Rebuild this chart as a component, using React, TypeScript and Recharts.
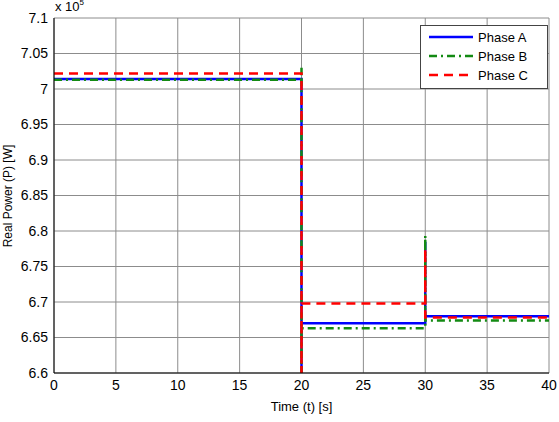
import React from "react";
import { LineChart, Line, XAxis, YAxis, CartesianGrid } from "recharts";

const xTicks = [0, 5, 10, 15, 20, 25, 30, 35, 40];
const yTicks = [6.6, 6.65, 6.7, 6.75, 6.8, 6.85, 6.9, 6.95, 7, 7.05, 7.1];

const timeA = [0, 20, 20, 20, 30, 30, 30, 40];
const powerA = [7.014, 7.014, 6.59, 6.67, 6.67, 6.785, 6.68, 6.68];

const timeB = [0, 20, 20, 20, 20, 30, 30, 30, 40];
const powerB = [7.013, 7.013, 7.03, 6.59, 6.663, 6.663, 6.793, 6.674, 6.674];

const timeC = [0, 20, 20, 20, 30, 30, 30, 40];
const powerC = [7.022, 7.022, 6.58, 6.698, 6.698, 6.775, 6.678, 6.678];

const build = (t: number[], p: number[]) => t.map((x, i) => ({ t: x, p: p[i] }));
const dataA = build(timeA, powerA);
const dataB = build(timeB, powerB);
const dataC = build(timeC, powerC);

const font = "'Liberation Sans', Arial, sans-serif";

const fmt = (v: number) => String(Math.round(v * 100) / 100);

export default function App() {
  return (
    <div style={{ position: "absolute", left: 0, top: 0, width: 559, height: 422, background: "#fff", fontFamily: font }}>
      <LineChart width={559} height={422} margin={{ top: 18, right: 10, bottom: 0, left: 0 }}>
        <CartesianGrid stroke="#8c8c8c" strokeWidth={1} />
        <XAxis
          dataKey="t"
          type="number"
          domain={[0, 40]}
          ticks={xTicks}
          allowDataOverflow
          height={49}
          tickLine={false}
          axisLine={{ stroke: "#000" }}
          tick={{ fill: "#000", fontSize: 14, fontFamily: font }}
          tickMargin={1}
          label={{ value: "Time (t) [s]", position: "insideBottom", offset: 11, fill: "#000", fontSize: 13, fontFamily: font }}
        />
        <XAxis xAxisId="top" orientation="top" type="number" domain={[0, 40]} ticks={xTicks} height={0} tick={false} tickLine={false} axisLine={{ stroke: "#000" }} />
        <YAxis
          type="number"
          domain={[6.6, 7.1]}
          ticks={yTicks}
          allowDataOverflow
          width={54}
          tickLine={false}
          axisLine={{ stroke: "#000" }}
          tickFormatter={fmt}
          tick={{ fill: "#000", fontSize: 14, fontFamily: font }}
          tickMargin={0}
        />
        <YAxis yAxisId="right" orientation="right" type="number" domain={[6.6, 7.1]} ticks={yTicks} width={0} tick={false} tickLine={false} axisLine={{ stroke: "#000" }} />
        <Line data={dataA} dataKey="p" type="linear" stroke="#0000ff" strokeWidth={2.5} dot={false} isAnimationActive={false} />
        <Line data={dataB} dataKey="p" type="linear" stroke="#138a13" strokeWidth={2.5} strokeDasharray="8 4 2 4" dot={false} isAnimationActive={false} />
        <Line data={dataC} dataKey="p" type="linear" stroke="#ff0000" strokeWidth={2.5} strokeDasharray="9 6" dot={false} isAnimationActive={false} />
      </LineChart>
      <div
        style={{
          position: "absolute",
          left: 8,
          top: 196,
          transform: "translate(-50%, -50%) rotate(-90deg)",
          whiteSpace: "nowrap",
          fontSize: 12,
          color: "#000",
        }}
      >
        Real Power (P) [W]
      </div>
      <div style={{ position: "absolute", left: 55, top: -1, fontSize: 13, color: "#000" }}>
        x 10<sup style={{ fontSize: 8, verticalAlign: "top", position: "relative", top: -1 }}>5</sup>
      </div>
      <div
        style={{
          position: "absolute",
          left: 420,
          top: 25,
          width: 128,
          height: 64,
          background: "#fff",
          border: "1px solid #444",
          boxSizing: "border-box",
          fontSize: 13,
          color: "#000",
        }}
      >
        {[
          { name: "Phase A", color: "#0000ff", dash: "" },
          { name: "Phase B", color: "#138a13", dash: "8 4 2 4" },
          { name: "Phase C", color: "#ff0000", dash: "9 6" },
        ].map((s, i) => (
          <div key={s.name} style={{ position: "absolute", left: 6, top: 2 + i * 19, height: 18, display: "flex", alignItems: "center" }}>
            <svg width={48} height={10} style={{ marginRight: 3 }}>
              <line x1={2} y1={5} x2={46} y2={5} stroke={s.color} strokeWidth={2.5} strokeDasharray={s.dash || undefined} />
            </svg>
            <span>{s.name}</span>
          </div>
        ))}
      </div>
    </div>
  );
}
